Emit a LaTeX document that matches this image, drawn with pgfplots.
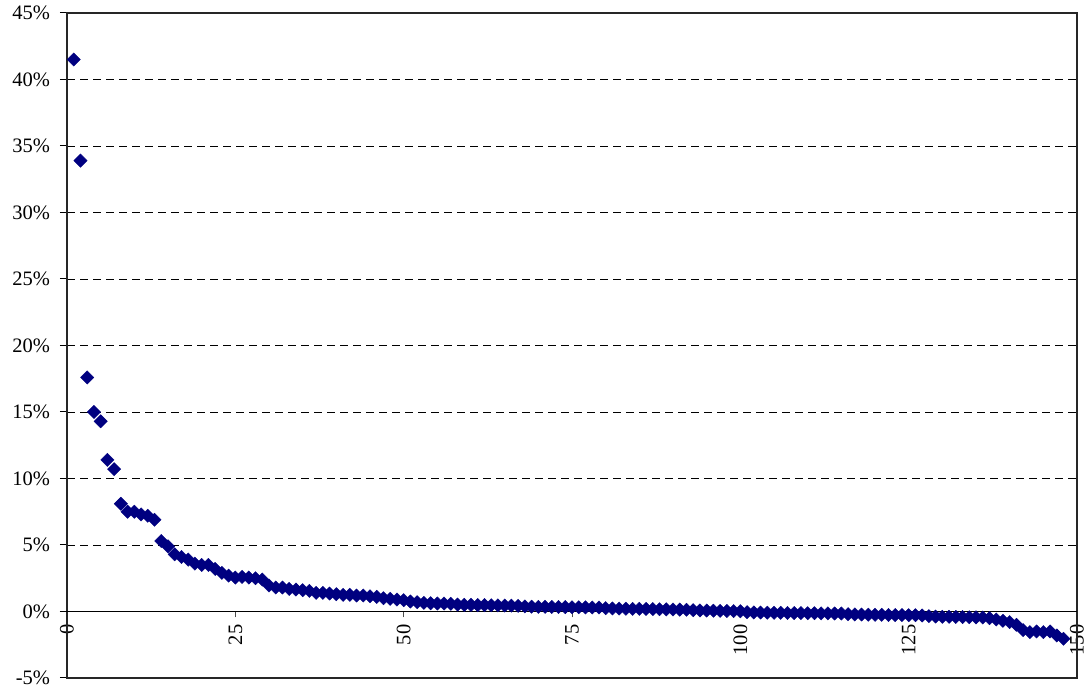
\documentclass[border=0pt]{standalone}
\usepackage{fontspec}
\setmainfont{Liberation Serif}
\usepackage{pgfplots}
\pgfplotsset{compat=1.18}
\definecolor{navy}{RGB}{0,0,128}
\begin{document}
\fontsize{20.5}{24}\selectfont
\begin{tikzpicture}
\pgfplotsset{
  every axis/.append style={
    width=1010pt, height=665pt, scale only axis,
    xmin=0, xmax=150, ymin=-5, ymax=45,
    /pgf/number format/assume math mode=true,
    tick label style={font=\fontsize{20.5}{24}\selectfont},
  }
}
% x axis at 0 with rotated labels
\begin{axis}[
  axis x line*=middle, axis y line=none,
  xtick={0,25,...,150}, ytick=\empty,
  tick align=outside, major tick length=6pt,
  x tick style={black!70, line width=1pt},
  x axis line style={black, line width=1.2pt},
  x tick label style={rotate=90, anchor=east},
]
\end{axis}
% box, grid and data
\begin{axis}[
  axis line style={black!85, line width=1.2pt},
  xtick=\empty,
  ytick={-5,0,...,45},
  yticklabel={\pgfmathprintnumber{\tick}\%},
  ytick pos=left,
  tick align=outside, major tick length=7pt,
  y tick style={black, line width=1pt},
  y tick label style={xshift=-3pt},
  ymajorgrids,
  major grid style={black, line width=0.9pt, dash pattern=on 8pt off 5pt},
  extra y ticks={0}, extra y tick labels={},
  extra y tick style={grid=major, major grid style={solid, black, line width=1.2pt}},
]
\addplot[only marks, color=navy, mark=square*, mark size=4.7pt,
  mark options={rotate=45, fill=navy, draw=navy}] coordinates {
(1,41.5) (2,33.9) (3,17.6) (4,15.0) (5,14.3) (6,11.4) (7,10.7) (8,8.1) (9,7.5) (10,7.5)
(11,7.3) (12,7.2) (13,6.9) (14,5.3) (15,4.9) (16,4.3) (17,4.1) (18,3.9) (19,3.6) (20,3.5)
(21,3.5) (22,3.2) (23,2.9) (24,2.7) (25,2.55) (26,2.6) (27,2.55) (28,2.5) (29,2.4) (30,1.95)
(31,1.8) (32,1.8) (33,1.7) (34,1.65) (35,1.6) (36,1.55) (37,1.4) (38,1.4) (39,1.35) (40,1.3)
(41,1.25) (42,1.25) (43,1.2) (44,1.2) (45,1.15) (46,1.1) (47,1.0) (48,0.95) (49,0.9) (50,0.85)
(51,0.75) (52,0.7) (53,0.65) (54,0.62) (55,0.6) (56,0.6) (57,0.58) (58,0.52) (59,0.5) (60,0.5)
(61,0.48) (62,0.48) (63,0.47) (64,0.46) (65,0.45) (66,0.44) (67,0.42) (68,0.38) (69,0.36) (70,0.35)
(71,0.35) (72,0.34) (73,0.34) (74,0.33) (75,0.32) (76,0.32) (77,0.31) (78,0.3) (79,0.3) (80,0.25)
(81,0.23) (82,0.22) (83,0.21) (84,0.2) (85,0.2) (86,0.19) (87,0.18) (88,0.17) (89,0.16) (90,0.15)
(91,0.14) (92,0.13) (93,0.1) (94,0.08) (95,0.07) (96,0.06) (97,0.05) (98,0.04) (99,0.03) (100,0.02)
(101,-0.05) (102,-0.07) (103,-0.08) (104,-0.09) (105,-0.1) (106,-0.1) (107,-0.11) (108,-0.12) (109,-0.12) (110,-0.13)
(111,-0.13) (112,-0.14) (113,-0.14) (114,-0.15) (115,-0.15) (116,-0.2) (117,-0.22) (118,-0.23) (119,-0.24) (120,-0.25)
(121,-0.25) (122,-0.26) (123,-0.27) (124,-0.27) (125,-0.28) (126,-0.28) (127,-0.3) (128,-0.35) (129,-0.38) (130,-0.4)
(131,-0.4) (132,-0.41) (133,-0.42) (134,-0.43) (135,-0.44) (136,-0.45) (137,-0.5) (138,-0.6) (139,-0.7) (140,-0.8)
(141,-1.0) (142,-1.4) (143,-1.55) (144,-1.5) (145,-1.55) (146,-1.5) (147,-1.8) (148,-2.05)
};
\end{axis}
\pgfresetboundingbox
\path ([shift={(-67pt,-15pt)}]current axis.south west) rectangle ([shift={(9pt,13pt)}]current axis.north east);
\end{tikzpicture}
\end{document}
